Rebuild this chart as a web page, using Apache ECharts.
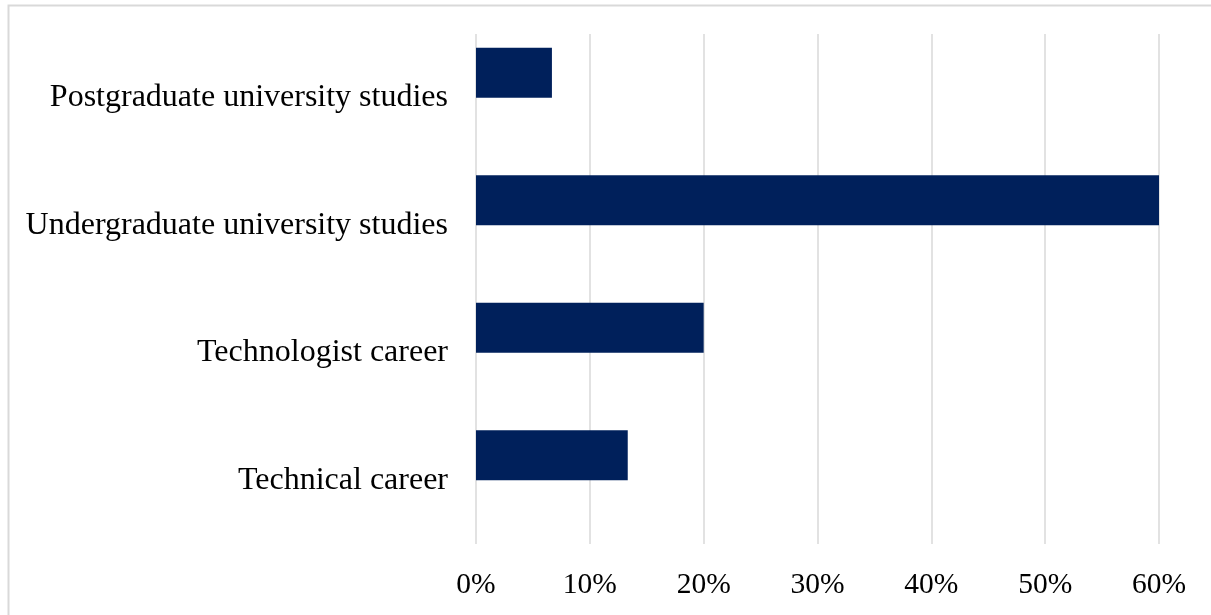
<!DOCTYPE html>
<html>
<head>
<meta charset="utf-8">
<title>Career paths</title>
<script src="https://cdn.jsdelivr.net/npm/echarts@6/dist/echarts.min.js"></script>
<style>
  html, body { margin: 0; padding: 0; background: #ffffff; }
  #chart { width: 1211px; height: 615px; }
</style>
</head>
<body>
<div id="chart"></div>
<script>
// Categories listed bottom to top (ECharts category y-axis starts at the bottom)
const categories = [
  'Technical career',
  'Technologist career',
  'Undergraduate university studies',
  'Postgraduate university studies'
];
// Share of respondents, in percent
const shares = [13.33, 20, 60, 6.67];
// Second, empty series of the workbook (keeps the bars in the upper half of each band)
const emptySeries = [null, null, null, null];
const tickValues = [0, 10, 20, 30, 40, 50, 60];

const fontFamily = '"Liberation Serif", "Times New Roman", serif';
const chart = echarts.init(document.getElementById('chart'), null, { renderer: 'canvas' });

chart.setOption({
  backgroundColor: '#ffffff',
  animation: false,
  graphic: [{
    type: 'rect',
    shape: { x: 8.5, y: 5.5, width: 1230, height: 640 },
    style: { fill: 'none', stroke: '#d9d9d9', lineWidth: 2 },
    silent: true
  }],
  grid: { left: 476, right: 52, top: 34, bottom: 71, containLabel: false },
  xAxis: {
    type: 'value',
    min: tickValues[0],
    max: tickValues[tickValues.length - 1],
    interval: 10,
    axisLine: { show: false },
    axisTick: { show: false },
    splitLine: { show: true, lineStyle: { color: '#d9d9d9', width: 1.5 } },
    axisLabel: {
      formatter: v => v + '%',
      color: '#000000',
      fontFamily: fontFamily,
      fontSize: 29.5,
      margin: 26
    }
  },
  yAxis: {
    type: 'category',
    data: categories,
    axisLine: { show: false },
    axisTick: { show: false },
    splitLine: { show: false },
    axisLabel: {
      color: '#000000',
      fontFamily: fontFamily,
      fontSize: 32,
      margin: 28,
      padding: [5, 0, 0, 0]
    }
  },
  series: [
    {
      type: 'bar',
      data: shares,
      barGap: '0%',
      barCategoryGap: '21.57%',
      itemStyle: { color: '#00205b' }
    },
    {
      type: 'bar',
      data: emptySeries,
      barGap: '0%',
      barCategoryGap: '21.57%',
      itemStyle: { color: '#00205b' }
    }
  ]
});
</script>
</body>
</html>
